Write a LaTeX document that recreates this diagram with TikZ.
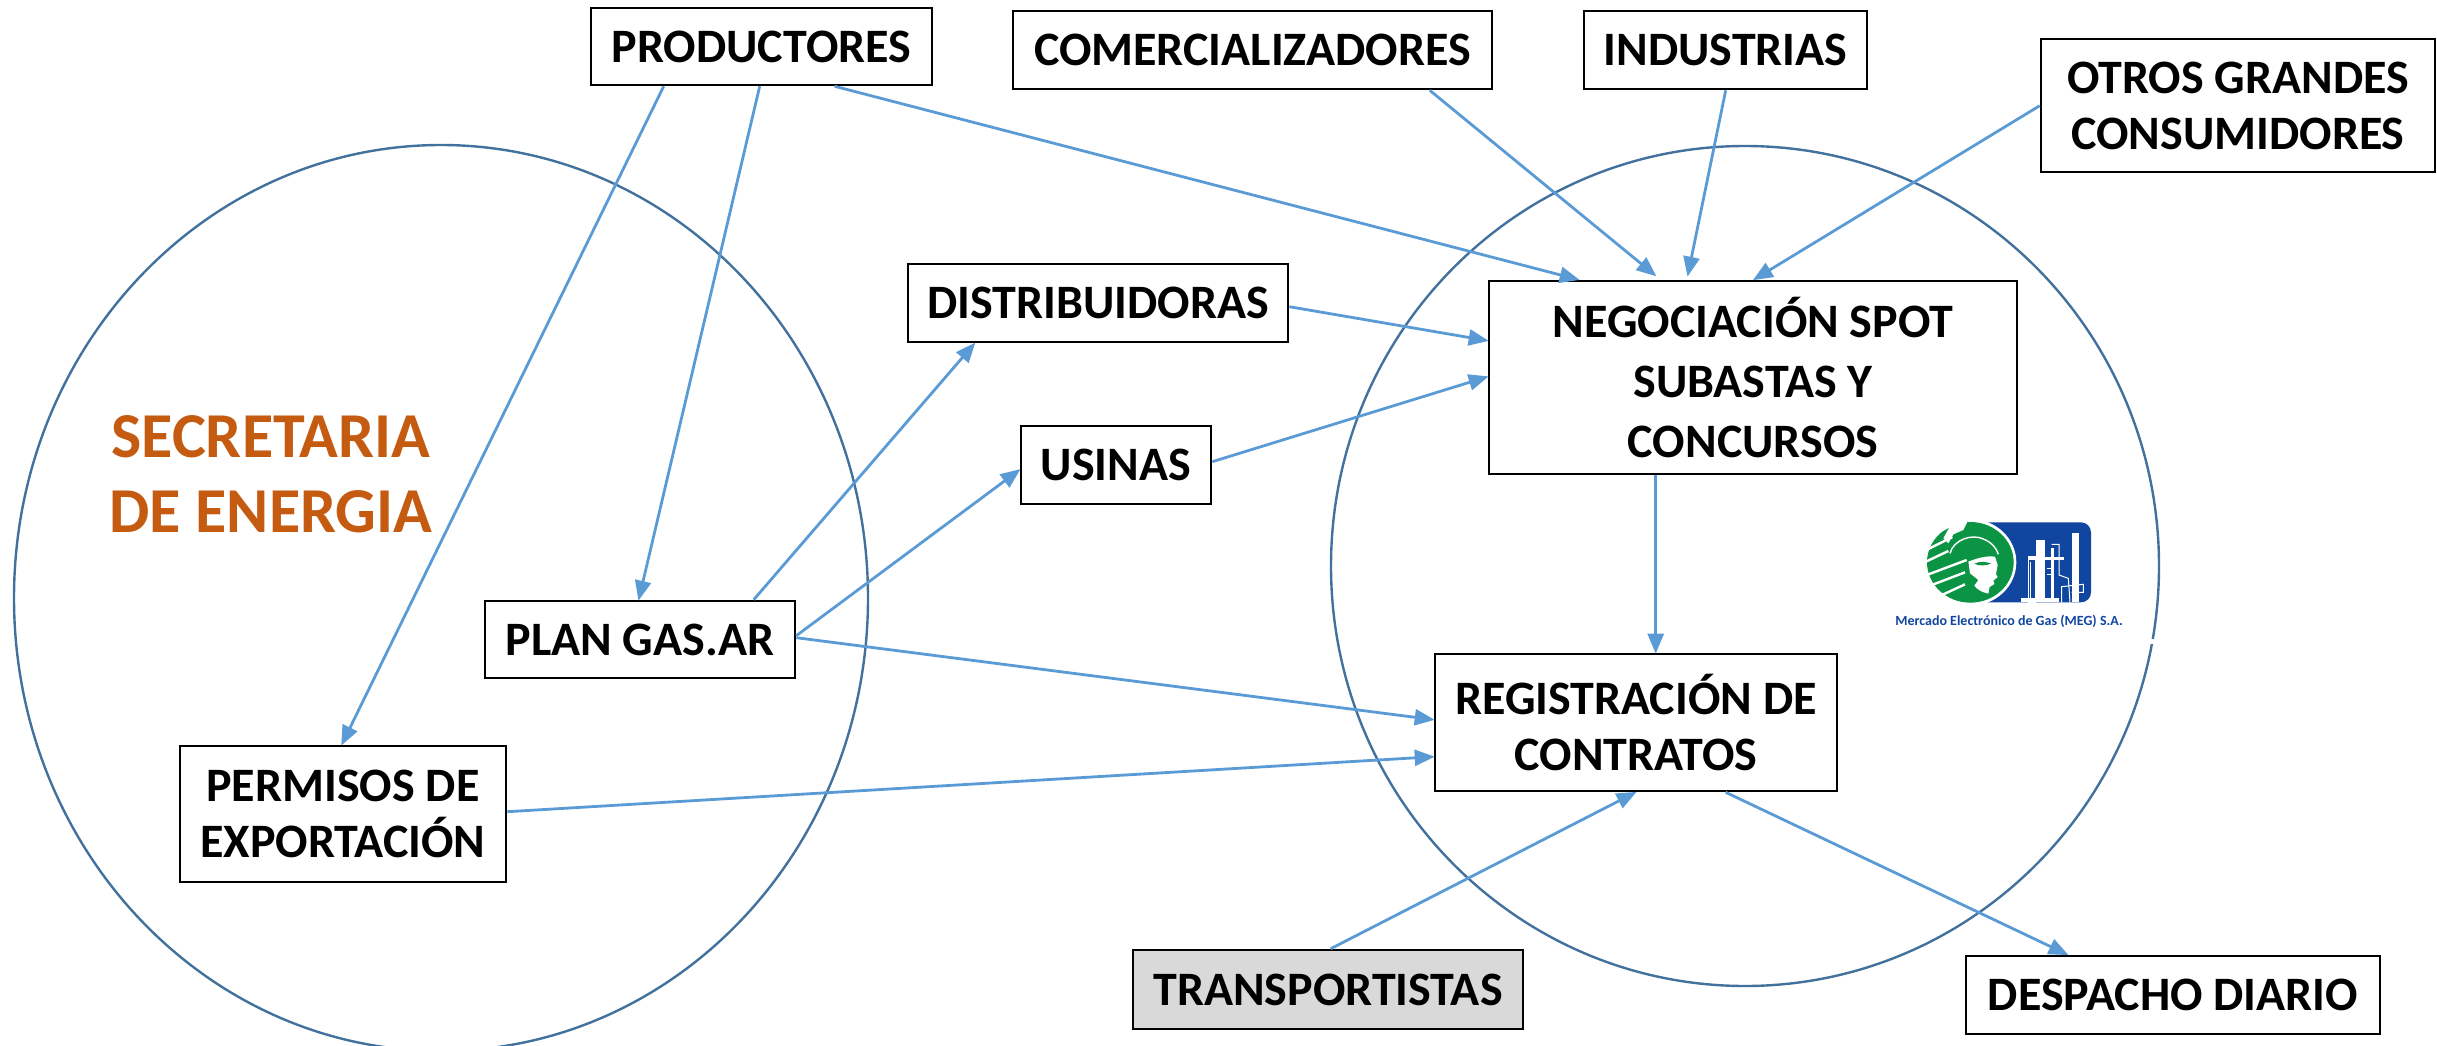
\documentclass[tikz,border=0pt]{standalone}
\usepackage{fontspec}
\setmainfont{Carlito}
\usetikzlibrary{arrows.meta,calc}
\definecolor{ringc}{HTML}{41719C}
\definecolor{arrc}{HTML}{5B9BD5}
\definecolor{titlec}{HTML}{C55A11}
\definecolor{meggreen}{HTML}{0B9444}
\definecolor{megblue}{HTML}{1045A0}
\definecolor{graybox}{HTML}{D9D9D9}
\tikzset{
  box/.style={draw=black,line width=2.6pt,fill=#1,align=center,inner sep=0pt,
    font=\fontsize{48}{56}\selectfont\bfseries,text=black},
  box/.default=white,
  ring/.style={draw=ringc,line width=2.4pt},
  link/.style={draw=arrc,line width=2.8pt,-{Triangle[length=20pt,width=16pt]},shorten >=-1pt},
  title/.style={font=\fontsize{64}{75}\selectfont\bfseries,text=titlec,align=center,inner sep=0pt},
  stripe/.style={draw=white,line width=2.4pt},
  plant/.style={draw=white,line width=1pt},
}
\newcommand{\bx}[7][white]{%
  \pgfmathsetmacro{\bw}{#5-#3}\pgfmathsetmacro{\bh}{#6-#4}%
  \pgfmathsetmacro{\bcx}{(#3+#5)/2}\pgfmathsetmacro{\bcy}{(#4+#6)/2}%
  \node[box=#1,minimum width=\bw pt,minimum height=\bh pt] (#2) at (\bcx,\bcy) {#7};}
\begin{document}
\begin{tikzpicture}[x=1pt,y=-1pt]
\useasboundingbox (0,0) rectangle (2437,1046);
\begin{scope}
\clip (0,0) rectangle (2437,1046);
\draw[ring] (441,598) ellipse [x radius=427,y radius=453];
\draw[ring] (1745,566) ellipse [x radius=414,y radius=420];
\end{scope}
\fill[white] (2148,639) rectangle (2162,644);
% title
\node[title] (sec) at (271,474) {SECRETARIA\\DE ENERGIA};
% boxes
\bx{prod}{591}{8}{932}{85}{PRODUCTORES}
\bx{com}{1013}{11}{1492}{89}{COMERCIALIZADORES}
\bx{ind}{1584}{11}{1867}{89}{INDUSTRIAS}
\bx{otros}{2041}{39}{2435}{172}{OTROS GRANDES\\CONSUMIDORES}
\bx{dist}{908}{264}{1288}{342}{DISTRIBUIDORAS}
\bx{usi}{1021}{426}{1211}{504}{USINAS}
\bx{neg}{1489}{281}{2017}{474}{NEGOCIACIÓN SPOT\\[4pt]SUBASTAS Y\\[4pt]CONCURSOS}
\bx{plan}{485}{601}{795}{678}{PLAN GAS.AR}
\bx{perm}{180}{746}{506}{882}{PERMISOS DE\\EXPORTACIÓN}
\bx{reg}{1435}{654}{1837}{791}{REGISTRACIÓN DE\\CONTRATOS}
\bx[graybox]{trans}{1133}{950}{1523}{1029}{TRANSPORTISTAS}
\bx{desp}{1966}{956}{2380}{1034}{DESPACHO DIARIO}
% connectors
\draw[link] ($(prod.south west)+(74,0)$) -- ($(perm.north west)+(163,0)$);
\draw[link] ($(prod.south west)+(170,0)$) -- ($(plan.north west)+(155,0)$);
\draw[link] ($(prod.south west)+(245,0)$) -- ($(neg.north west)+(91,0)$);
\draw[link] ($(com.south west)+(418,0)$) -- ($(neg.north west)+(168,-4)$);
\draw[link] ($(ind.south west)+(143,0)$) -- ($(neg.north west)+(200,-4)$);
\draw[link] ($(otros.north west)+(0,68)$) -- ($(neg.north west)+(266,0)$);
\draw[link] ($(dist.north east)+(0,44)$) -- ($(neg.north west)+(0,61)$);
\draw[link] ($(usi.north east)+(0,37)$) -- ($(neg.north west)+(0,97)$);
\draw[link] ($(plan.north west)+(270,0)$) -- ($(dist.south west)+(68,0)$);
\draw[link] ($(plan.north east)+(0,36)$) -- ($(usi.north west)+(0,45)$);
\draw[link] ($(plan.north east)+(0,38)$) -- ($(reg.north west)+(0,67)$);
\draw[link] ($(perm.north east)+(0,67)$) -- ($(reg.north west)+(0,104)$);
\draw[link] ($(neg.south west)+(168,0)$) -- ($(reg.north west)+(222,0)$);
\draw[link] ($(trans.north west)+(199,0)$) -- ($(reg.south west)+(202,0)$);
\draw[link] ($(reg.south west)+(292,0)$) -- ($(desp.north west)+(103,0)$);
% logo
\begin{scope}[shift={(1915,515)},x=0.3333pt,y=-0.3333pt]
\begin{scope}
\clip (0,22) rectangle (540,262);
\fill[megblue,rounded corners=10pt] (170,22) -- (528,22) -- (528,262) -- (170,262);
\fill[white] (166,142) ellipse [x radius=138,y radius=130];
\fill[meggreen] (166,142) ellipse [x radius=130,y radius=121];
% left stripes
\draw[stripe] (20,78) -- (125,22);
\draw[stripe] (20,112) -- (112,66);
\draw[stripe] (20,146) -- (100,108);
\draw[stripe] (30,182) -- (155,135);
\draw[stripe] (40,214) -- (150,172);
\draw[stripe] (70,245) -- (150,208);
\fill[white] (115,15) -- (160,15) -- (145,45) -- (115,58) -- (100,85) -- (85,70) -- cycle;
% helmet line
\draw[draw=white,line width=1.4pt] (105,115) .. controls (115,75) and (170,55) .. (205,72) .. controls (230,82) and (245,100) .. (250,118);
% face
\fill[white] (160,140) .. controls (190,128) and (215,122) .. (240,125) -- (248,150) -- (243,178) -- (248,186) -- (235,197) -- (238,207) -- (224,216) -- (220,236) .. controls (200,232) and (185,222) .. (178,212) -- (190,195) -- (165,175) -- cycle;
\fill[meggreen] (178,146) .. controls (195,138) and (215,140) .. (228,146) .. controls (215,152) and (190,154) .. (178,146) -- cycle;
\end{scope}
% plant
\fill[white] (470,55) rectangle (492,262);
\fill[white] (362,75) rectangle (390,262);
\fill[white] (408,100) rectangle (416,262);
\fill[white] (340,125) rectangle (448,135);
\fill[white] (318,248) rectangle (432,262);
\draw[plant] (340,125) rectangle (360,262);
\draw[plant] (346,140) -- (346,250);
\draw[plant] (410,88) -- (432,88) -- (432,180) -- (460,190) -- (465,262);
\draw[plant] (440,262) -- (440,215) -- (505,208) -- (505,232) -- (470,232);
\draw[plant] (395,160) -- (410,160) (395,180) -- (410,180);
\end{scope}
\node[font=\fontsize{14}{15}\selectfont\bfseries,text=megblue,inner sep=0pt] (meg) at (2009,621) {Mercado Electrónico de Gas (MEG) S.A.};
\end{tikzpicture}
\end{document}
